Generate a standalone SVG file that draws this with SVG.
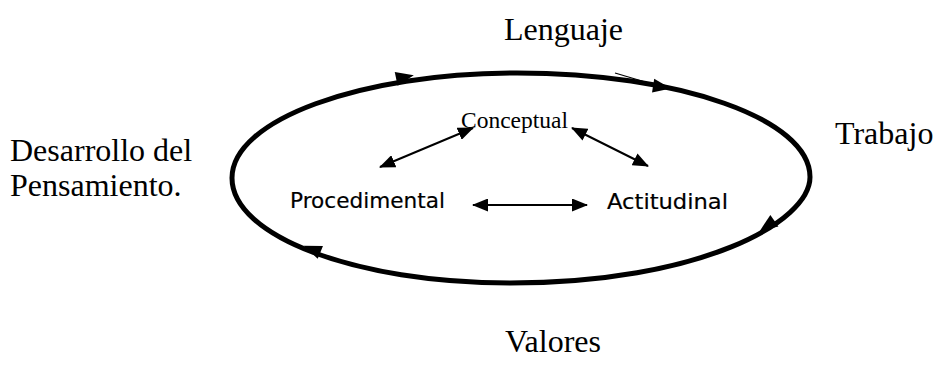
<svg xmlns="http://www.w3.org/2000/svg" width="951" height="371" viewBox="0 0 951 371">
  <style>
    .outer { font-family: "Liberation Serif", "Times New Roman", serif; font-size: 32px; fill: #000; }
    .center { font-family: "Liberation Serif", "Times New Roman", serif; font-size: 24px; fill: #000; }
    .hand { font-family: "Comic Sans MS", "DejaVu Sans", sans-serif; font-size: 22px; fill: #000; stroke: #000; stroke-width: 0.2; }
    .ring { fill: none; stroke: #000; stroke-width: 5; }
    .link { fill: none; stroke: #000; stroke-width: 2; }
  </style>
  <defs>
    <marker id="tip" viewBox="0 0 16 13" refX="15" refY="6.5" markerWidth="16" markerHeight="13" markerUnits="userSpaceOnUse" orient="auto-start-reverse">
      <path d="M0,0 L16,6.5 L0,13 Z" fill="#000"/>
    </marker>
    <path id="flow" d="M-9,-7 L9,0 L-9,7 Z" fill="#000"/>
  </defs>

  <rect width="951" height="371" fill="#fff"/>

  <!-- labels outside the cycle -->
  <g id="lenguaje"><text class="outer" x="504" y="40">Lenguaje</text></g>
  <g id="trabajo"><text class="outer" x="835" y="144">Trabajo</text></g>
  <g id="desarrollo"><text class="outer" x="10" y="161">Desarrollo del</text><text class="outer" x="10" y="196">Pensamiento.</text></g>
  <g id="valores"><text class="outer" x="505" y="352">Valores</text></g>

  <!-- the clockwise cycle -->
  <g id="cycle">
    <path class="ring" d="M232,178 C232,120 360,73 517,73 C679,73 810,119 810,177 C810,222 700,283 510,283 C355,283 232,236 232,178 Z"/>
    <use href="#flow" transform="translate(405,77) rotate(-12)"/>
    <use href="#flow" transform="translate(662,87) rotate(9)"/>
    <use href="#flow" transform="translate(767,226) rotate(145)"/>
    <use href="#flow" transform="translate(312,249) rotate(-158)"/>
    <line x1="615" y1="73" x2="652" y2="84" stroke="#000" stroke-width="1.3"/>
  </g>

  <!-- inner nodes -->
  <g id="conceptual"><text class="center" x="461" y="128" textLength="107" lengthAdjust="spacingAndGlyphs">Conceptual</text></g>
  <g id="procedimental"><text class="hand" x="290" y="208" textLength="155" lengthAdjust="spacingAndGlyphs">Procedimental</text></g>
  <g id="actitudinal"><text class="hand" x="607" y="209" textLength="121" lengthAdjust="spacingAndGlyphs">Actitudinal</text></g>

  <!-- connectors between the inner nodes -->
  <g id="connectors">
    <line class="link" x1="380" y1="167" x2="473" y2="128" marker-start="url(#tip)" marker-end="url(#tip)"/>
    <line class="link" x1="572" y1="128" x2="648" y2="166" marker-start="url(#tip)" marker-end="url(#tip)"/>
    <line class="link" x1="473" y1="205" x2="587" y2="205" marker-start="url(#tip)" marker-end="url(#tip)"/>
  </g>
</svg>
